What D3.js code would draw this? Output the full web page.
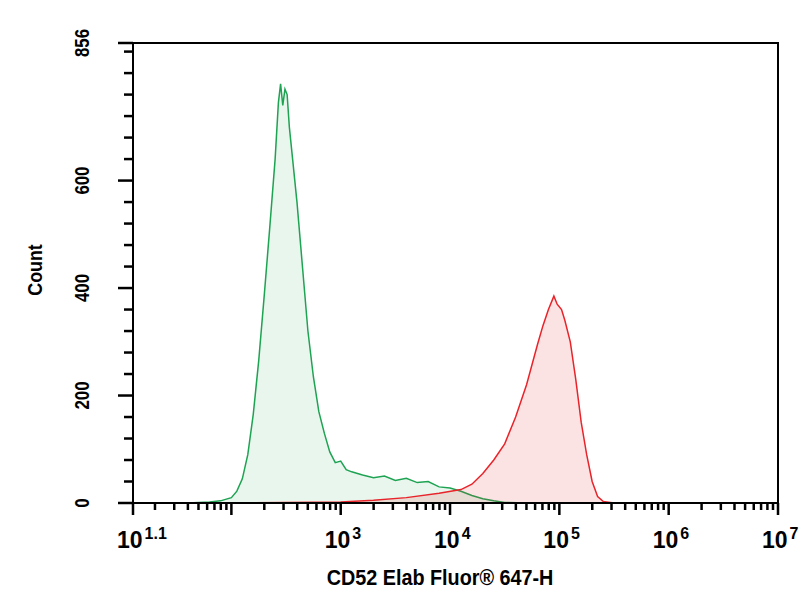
<!DOCTYPE html><html><head><script src="https://cdn.jsdelivr.net/npm/d3@7"></script>
<style>body{margin:0;background:#fff}text{font-family:"Liberation Sans",Arial,sans-serif;font-weight:bold}</style></head><body><svg id="c" width="804" height="600"></svg><script>
const greenLog=[1.6,1.8,1.9,2.0,2.05,2.1,2.15,2.2,2.25,2.3,2.35,2.4,2.43,2.45,2.47,2.49,2.51,2.53,2.56,2.6,2.65,2.7,2.75,2.8,2.85,2.9,2.95,3.0,3.05,3.1,3.2,3.3,3.4,3.5,3.6,3.7,3.8,3.9,4.0,4.1,4.2,4.3,4.4,4.5,4.7];
const greenCount=[0,2,4,10,22,45,90,165,265,385,510,640,745,780,740,770,760,700,640,560,440,320,235,170,130,95,75,78,62,58,52,47,50,42,46,38,40,30,28,22,14,8,4,1,0];
const redLog=[2.0,2.5,3.0,3.3,3.6,3.9,4.1,4.2,4.3,4.4,4.5,4.6,4.7,4.8,4.85,4.9,4.95,4.98,5.02,5.05,5.1,5.15,5.2,5.25,5.3,5.35,5.4,5.5];
const redCount=[0,1,2,5,10,18,25,35,55,80,110,160,220,295,330,360,385,370,360,340,300,230,150,90,40,12,3,0];
const xTicks=[1.1,3,4,5,6,7];
const xTickLabels=[["10","1.1"],["10","3"],["10","4"],["10","5"],["10","6"],["10","7"]];
const yTicks=[0,200,400,600,856];
const svg=d3.select("#c");
const L=133,R=778,T=43,B=503;
const x=d3.scaleLinear().domain([1.1,7]).range([L,R]);
const y=d3.scaleLinear().domain([0,856]).range([B,T]);
function draw(lx,cnt,stroke,fill){
 const pts=lx.map((v,i)=>[v,cnt[i]]);
 svg.append("path").datum(pts).attr("d",d3.area().x(d=>x(d[0])).y0(B).y1(d=>y(d[1]))).attr("fill",fill);
 svg.append("path").datum(pts).attr("d",d3.line().x(d=>x(d[0])).y(d=>y(d[1]))).attr("fill","none").attr("stroke",stroke).attr("stroke-width",1.5);
}
draw(greenLog,greenCount,"#1ea352","rgba(30,163,82,0.1)");
draw(redLog,redCount,"#e8242a","rgba(232,36,42,0.13)");
svg.append("rect").attr("x",L).attr("y",T).attr("width",R-L).attr("height",B-T).attr("fill","none").attr("stroke","#000").attr("stroke-width",2);
const tk=svg.append("g").attr("stroke","#000").attr("stroke-width",2.5);
d3.range(0,857,40).concat([856]).forEach(v=>{const major=yTicks.includes(v);
 tk.append("line").attr("x1",L-(major?15:9)).attr("x2",L).attr("y1",y(v)).attr("y2",y(v));});
yTicks.forEach(v=>svg.append("text").attr("transform",`translate(${L-44},${y(v)}) rotate(-90) scale(0.8,1)`).attr("text-anchor","middle").attr("font-size",21).text(v));
svg.append("text").attr("transform",`translate(42,270) rotate(-90) scale(0.85,1)`).attr("text-anchor","middle").attr("font-size",21).text("Count");
for(let d=1;d<7;d++){for(let k=1;k<10;k++){const lv=d+Math.log10(k);if(lv<1.1||lv>7)continue;
 tk.append("line").attr("x1",x(lv)).attr("x2",x(lv)).attr("y1",B).attr("y2",B+(k==1?12:7));}}
[1.1,7].forEach(v=>tk.append("line").attr("x1",x(v)).attr("x2",x(v)).attr("y1",B).attr("y2",B+12));
xTicks.forEach((v,i)=>{const t=svg.append("text").attr("x",x(v)-16).attr("y",B+45).attr("font-size",23);
 t.append("tspan").text(xTickLabels[i][0]);t.append("tspan").attr("dy",-9).attr("font-size",16).attr("dx",2).text(xTickLabels[i][1]);});
svg.append("text").attr("transform","translate(440,585) scale(0.9,1)").attr("text-anchor","middle").attr("font-size",22).text("CD52 Elab Fluor® 647-H");
</script></body></html>
